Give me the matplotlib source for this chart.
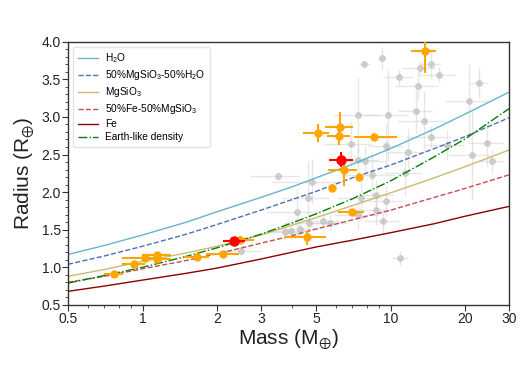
import matplotlib
matplotlib.use("Agg")
import matplotlib.pyplot as plt
from matplotlib.ticker import FixedLocator, FixedFormatter, MultipleLocator, LogLocator, NullFormatter

plt.rcParams['font.family'] = ['Liberation Sans', 'DejaVu Sans']
plt.rcParams['mathtext.default'] = 'regular'

# mass-radius curves
mass_grid = [0.5, 0.7, 1, 1.5, 2, 3, 4, 5, 7, 10, 15, 20, 30]
r_h2o = [1.17, 1.29, 1.43, 1.60, 1.74, 1.93, 2.07, 2.19, 2.37, 2.58, 2.84, 3.04, 3.33]
r_mix_water = [1.04, 1.15, 1.28, 1.44, 1.57, 1.76, 1.90, 2.01, 2.19, 2.36, 2.58, 2.74, 2.99]
r_mgsio3 = [0.88, 0.97, 1.08, 1.19, 1.28, 1.43, 1.56, 1.66, 1.82, 1.99, 2.19, 2.34, 2.56]
r_mix_fe = [0.80, 0.88, 0.98, 1.09, 1.18, 1.32, 1.42, 1.51, 1.63, 1.76, 1.93, 2.05, 2.23]
r_fe = [0.68, 0.75, 0.83, 0.92, 0.99, 1.11, 1.20, 1.27, 1.36, 1.46, 1.58, 1.68, 1.81]
r_earth = [0.79, 0.89, 1.00, 1.145, 1.26, 1.44, 1.59, 1.71, 1.91, 2.15, 2.47, 2.71, 3.11]

# known planets (grey)
g_m = [7.83, 9.2, 13.1, 14.5, 15.7, 10.8, 12.9, 22.6, 20.6, 7.41, 9.78, 12.7, 13.6, 14.5,
       11.7, 9.6, 6.9, 7.4, 7.9, 3.5, 4.81, 8.4, 11.4, 24.4, 21.2, 25.6, 16.8, 4.18, 4.63,
       7.6, 8.7, 9.6, 8.7, 7.4, 9.3, 3.75, 3.95, 4.3, 4.7, 5.35, 5.67, 2.49, 10.9]
g_r = [3.70, 3.78, 3.65, 3.70, 3.56, 3.53, 3.41, 3.45, 3.21, 3.02, 3.03, 3.08, 2.95, 2.73,
       2.54, 2.61, 2.64, 2.43, 2.41, 2.21, 2.14, 2.23, 2.25, 2.65, 2.50, 2.41, 2.63, 1.73, 1.92,
       1.92, 1.96, 1.88, 1.76, 1.70, 1.61, 1.47, 1.48, 1.51, 1.59, 1.62, 1.59, 1.21, 1.12]
g_merr = [0.4, 0.3, 2.0, 1.5, 2.5, 1.5, 2.5, 2.0, 4.0, 1.5, 2.0, 2.0, 3.0, 3.0,
          2.0, 1.5, 1.5, 1.5, 1.5, 0.8, 1.5, 2.0, 2.0, 4.0, 4.0, 3.0, 3.0, 1.0, 1.0,
          1.5, 1.5, 1.5, 1.5, 1.5, 1.5, 0.6, 0.6, 0.8, 1.0, 1.0, 1.0, 0.5, 0.8]
g_rerr = [0.05, 0.15, 0.1, 0.2, 0.1, 0.1, 0.2, 0.2, 0.5, 0.5, 0.6, 0.3, 0.4, 0.15,
          0.3, 0.3, 0.3, 0.2, 0.2, 0.05, 0.3, 0.3, 0.3, 0.3, 0.6, 0.15, 0.2, 0.3, 0.5,
          0.3, 0.2, 0.2, 0.2, 0.2, 0.15, 0.1, 0.1, 0.1, 0.1, 0.1, 0.1, 0.05, 0.1]

# highlighted planets (orange)
o_m = [13.8, 5.1, 6.25, 6.21, 8.59, 6.49, 7.47, 5.79, 6.97, 4.61, 2.47, 2.10, 1.65,
       1.146, 1.146, 1.022, 0.923, 0.766]
o_r = [3.88, 2.79, 2.87, 2.74, 2.73, 2.30, 2.20, 2.06, 1.73, 1.40, 1.36, 1.175, 1.135,
       1.166, 1.108, 1.12, 1.046, 0.909]
o_mlo = [1.7, 0.65, 0.8, 0.65, 1.45, 0.9, 0.2, 0.15, 0.85, 0.85, 0.1, 0.3, 0.18, 0.15, 0.15, 0.2, 0.1, 0.07]
o_mhi = [1.4, 0.55, 0.8, 0.65, 2.0, 0.8, 0.2, 0.15, 0.85, 0.85, 0.35, 0.35, 0.2, 0.15, 0.15, 0.17, 0.1, 0.07]
o_rlo = [0.3, 0.12, 0.13, 0.12, 0.05, 0.22, 0.05, 0.05, 0.03, 0.10, 0.05, 0.03, 0.03, 0.04, 0.04, 0.03, 0.02, 0.02]
o_rhi = [0.12, 0.12, 0.2, 0.12, 0.05, 0.16, 0.05, 0.05, 0.03, 0.08, 0.05, 0.03, 0.03, 0.04, 0.04, 0.03, 0.02, 0.02]

# red planets
r_m = [6.3, 2.34]
r_r = [2.43, 1.352]
r_mlo = [0.66, 0.24]
r_mhi = [0.75, 0.25]
r_rlo = [0.09, 0.03]
r_rhi = [0.10, 0.03]

fig = plt.figure(figsize=(5.27, 3.83), dpi=100)
ax = fig.add_axes([0.129, 0.204, 0.837, 0.687])

ax.errorbar(g_m, g_r, xerr=g_merr, yerr=g_rerr, fmt='o', color='#b8b8b8', ms=4,
            ecolor='#d3d3d3', elinewidth=1, alpha=0.55, zorder=1)

ax.plot(mass_grid, r_h2o, '-', color='#64b5cd', lw=1, label='H$_2$O', zorder=2)
ax.plot(mass_grid, r_mix_water, '--', color='#4c72b0', lw=1, label='50%MgSiO$_3$-50%H$_2$O', zorder=2)
ax.plot(mass_grid, r_mgsio3, '-', color='#ccb974', lw=1, label='MgSiO$_3$', zorder=2)
ax.plot(mass_grid, r_mix_fe, '--', color='#c44e52', lw=1, label='50%Fe-50%MgSiO$_3$', zorder=2)
ax.plot(mass_grid, r_fe, '-', color='#8b0000', lw=1, label='Fe', zorder=2)
ax.plot(mass_grid, r_earth, '-.', color='green', lw=1, label='Earth-like density', zorder=2)

ax.errorbar(o_m, o_r, xerr=[o_mlo, o_mhi], yerr=[o_rlo, o_rhi], fmt='o', color='orange',
            ms=5, elinewidth=1.5, zorder=3)
ax.errorbar(r_m, r_r, xerr=[r_mlo, r_mhi], yerr=[r_rlo, r_rhi], fmt='o', color='red',
            ms=6.5, elinewidth=1.5, zorder=4)

ax.set_xscale('log')
ax.set_xlim(0.5, 30)
ax.set_ylim(0.5, 4.0)
xt = [0.5, 1, 2, 3, 5, 10, 20, 30]
ax.xaxis.set_major_locator(FixedLocator(xt))
ax.xaxis.set_major_formatter(FixedFormatter(['0.5', '1', '2', '3', '5', '10', '20', '30']))
ax.xaxis.set_minor_locator(LogLocator(base=10, subs=range(2, 10)))
ax.xaxis.set_minor_formatter(NullFormatter())
ax.yaxis.set_major_locator(MultipleLocator(0.5))
ax.yaxis.set_minor_locator(MultipleLocator(0.1))
ax.tick_params(which='major', direction='out', length=4, width=0.8, labelsize=10,
               color='#333333', labelcolor='#222222', pad=1)
ax.tick_params(which='minor', direction='out', length=2, width=0.6, color='#333333')
for s in ax.spines.values():
    s.set_color('#333333')
    s.set_linewidth(1)

ax.set_xlabel('Mass (M$_{\\oplus}$)', fontsize=15, labelpad=1, color='#222222')
ax.set_ylabel('Radius (R$_{\\oplus}$)', fontsize=15, labelpad=3, color='#222222')

ax.legend(loc='upper left', fontsize=7.3, labelspacing=0.3, handlelength=2.0,
          handletextpad=0.7, frameon=True, edgecolor='#dddddd', fancybox=True,
          borderpad=0.45)

fig.savefig('out.png', dpi=100)
